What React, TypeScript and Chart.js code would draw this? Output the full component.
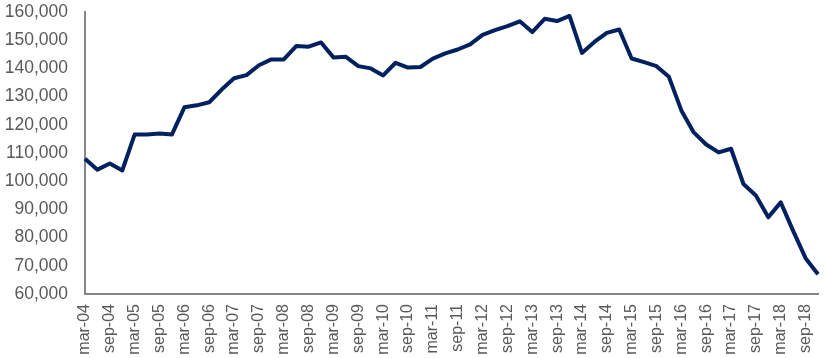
import React, { useEffect, useRef } from "react";
import { Chart, registerables } from "chart.js";

Chart.register(...registerables);

const years = ["04","05","06","07","08","09","10","11","12","13","14","15","16","17","18"];
const months = ["mar", "jun", "sep", "dec"];
const categories: string[] = [];
years.forEach((y) => months.forEach((m) => categories.push(`${m}-${y}`)));

const values = [
  108000, 104100, 106300, 103800, 116600, 116600, 116900, 116600, 126200, 126900,
  128000, 132500, 136500, 137600, 141100, 143200, 143200, 147900, 147700, 149200,
  143900, 144100, 140800, 140000, 137500, 142000, 140300, 140500, 143500, 145300,
  146700, 148500, 151900, 153600, 155000, 156700, 152900, 157600, 156800, 158600,
  145500, 149400, 152600, 153800, 143500, 142200, 140800, 137000, 125100, 117300,
  113000, 110200, 111500, 99000, 94900, 87200, 92500, 82400, 72700, 67000,
];

const yMin = 60000;
const yMax = 160000;
const yStep = 10000;

export default function App() {
  const ref = useRef<HTMLCanvasElement | null>(null);
  useEffect(() => {
    if (!ref.current) return;
    const chart = new Chart(ref.current, {
      type: "line",
      data: {
        labels: categories,
        datasets: [
          {
            data: values,
            borderColor: "#002060",
            borderWidth: 4,
            pointRadius: 0,
            tension: 0,
            borderJoinStyle: "round",
            fill: false,
          },
        ],
      },
      options: {
        animation: false,
        responsive: false,
        maintainAspectRatio: false,
        layout: { padding: { left: 0, right: 6, top: 12, bottom: 0 } },
        plugins: { legend: { display: false }, tooltip: { enabled: false } },
        scales: {
          x: {
            type: "category",
            offset: false,
            grid: { display: false, drawTicks: false },
            border: { display: true, color: "#868686", width: 2 },
            afterFit: (s: any) => { s.height = 64; s.paddingLeft = 0; s.paddingRight = 0; },
            ticks: {
              autoSkip: false,
              maxRotation: 90,
              minRotation: 90,
              padding: 10,
              color: "#595959",
              font: { family: "'Liberation Sans', Arial, sans-serif", size: 16 },
              callback: (_v: any, i: number) => (i % 2 === 0 ? categories[i] : ""),
            },
          },
          y: {
            min: yMin,
            max: yMax,
            grid: { display: false, drawTicks: false },
            border: { display: true, color: "#868686", width: 2 },
            afterFit: (s: any) => { s.width = 85; s.paddingTop = 0; s.paddingBottom = 0; },
            ticks: {
              stepSize: yStep,
              padding: 17,
              color: "#595959",
              font: { family: "'Liberation Sans', Arial, sans-serif", size: 17.5 },
              callback: (v: any) => Number(v).toLocaleString("en-US"),
            },
          },
        },
      },
    });
    return () => chart.destroy();
  }, []);
  return (
    <div style={{ position: "fixed", left: 0, top: 0, width: 824, height: 358, background: "#fff" }}>
      <canvas ref={ref} width={824} height={358} style={{ width: 824, height: 358 }} />
    </div>
  );
}
